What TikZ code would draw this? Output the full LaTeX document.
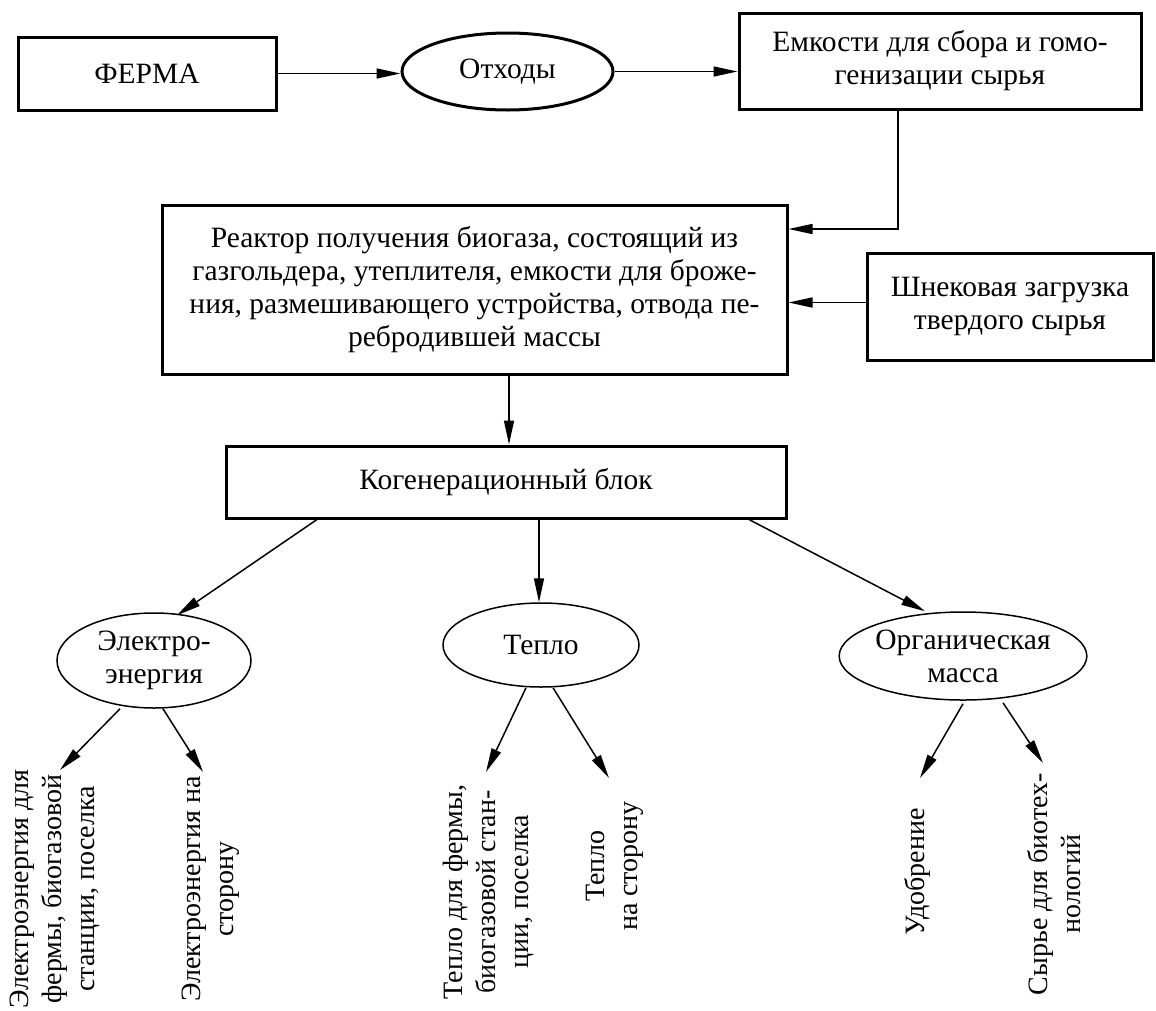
\documentclass[tikz,border=0pt]{standalone}
\usepackage{fontspec}
\setmainfont{Liberation Serif}
\usetikzlibrary{shapes.geometric,arrows.meta}
\newcommand\mainsize{\fontsize{29.5}{33}\selectfont}
\newcommand\leafsize{\fontsize{28}{33}\selectfont}
\begin{document}
\begin{tikzpicture}[x=1pt,y=-1pt,
  box/.style={draw, line width=3pt, inner sep=0pt, align=center, font=\mainsize},
  thickoval/.style={draw, ellipse, line width=3pt, inner sep=0pt, align=center, font=\mainsize},
  thinoval/.style={draw, ellipse, line width=1.5pt, inner sep=0pt, align=center, font=\mainsize},
  leaf/.style={rotate=90, inner sep=0pt, align=center, font=\leafsize},
  arr/.style={line width=1.5pt, -{Triangle[length=24pt,width=10pt]}}]
\useasboundingbox (0,0) rectangle (1156,1010);

% top row
\node[box, minimum width=258pt, minimum height=73pt] (ferma) at (147,73.5) {ФЕРМА};
\node[thickoval, minimum width=211pt, minimum height=77pt] (waste) at (507.5,71.5) {Отходы};
\node[box, minimum width=402pt, minimum height=96pt] (tank) at (940,61)
  {Емкости для сбора и гомо-\\генизации сырья};

% reactor and screw feeder
\node[box, minimum width=625pt, minimum height=169pt] (reactor) at (474.5,289.5)
  {Реактор получения биогаза, состоящий из\\газгольдера, утеплителя, емкости для броже-\\ния, размешивающего устройства, отвода пе-\\ребродившей массы};
\node[box, minimum width=286pt, minimum height=107pt] (screw) at (1010,306.5)
  {Шнековая загрузка\\твердого сырья};

% cogeneration unit
\node[box, minimum width=560pt, minimum height=72pt] (cogen) at (506,482) {Когенерационный блок};

% products
\node[thinoval, minimum width=194pt, minimum height=95pt] (elec) at (154,660.5) {Электро-\\энергия};
\node[thinoval, minimum width=196pt, minimum height=84pt] (heat) at (541,645) {Тепло};
\node[thinoval, minimum width=242pt, minimum height=88pt] (org) at (963,656) {Органическая\\масса};

% consumers (vertical labels)
\node[leaf] (e1) at (55,889) {Электроэнергия для\\фермы, биогазовой\\станции, поселка};
\node[leaf] (e2) at (211,889) {Электроэнергия на\\сторону};
\node[leaf] (h1) at (488,892) {Тепло для фермы,\\биогазовой стан-\\ции, поселка};
\node[leaf] (h2) at (615,866) {Тепло\\на сторону};
\node[leaf] (o1) at (917,872) {Удобрение};
\node[leaf] (o2) at (1054,884) {Сырье для биотех-\\нологий};

\coordinate (te1) at (60,770);
\coordinate (te2) at (203,772);
\coordinate (th1) at (486,772);
\coordinate (th2) at (609,778);
\coordinate (to1) at (920,778);
\coordinate (to2) at (1043,763);

% connectors
\draw[arr] (ferma.east) -- (ferma.east -| waste.west);
\draw[arr] (waste.east) -- (waste.east -| tank.west);
\draw[arr] ([xshift=-42pt]tank.south) |- ([yshift=60.5pt]reactor.east);
\draw[arr] ([yshift=4pt]screw.west) -- ([yshift=4pt]screw.west -| reactor.east);
\draw[arr] ([xshift=34.5pt]reactor.south) -- ([xshift=34.5pt]reactor.south |- cogen.north);

\draw[arr] ([xshift=-189pt]cogen.south) -- ([xshift=23pt,yshift=-3pt]elec.north);
\draw[arr] ([xshift=33pt]cogen.south) -- ([xshift=33pt]cogen.south |- heat.north);
\draw[arr] ([xshift=243pt]cogen.south) -- ([xshift=-38pt]org.north);

\draw[arr] ([xshift=-34pt]elec.south) -- (te1);
\draw[arr] ([xshift=9pt]elec.south) -- (te2);
\draw[arr] ([xshift=-15pt]heat.south) -- (th1);
\draw[arr] ([xshift=12pt]heat.south) -- (th2);
\draw[arr] ([yshift=-3pt]org.south) -- (to1);
\draw[arr] ([xshift=40pt,yshift=-2pt]org.south) -- (to2);
\end{tikzpicture}
\end{document}
